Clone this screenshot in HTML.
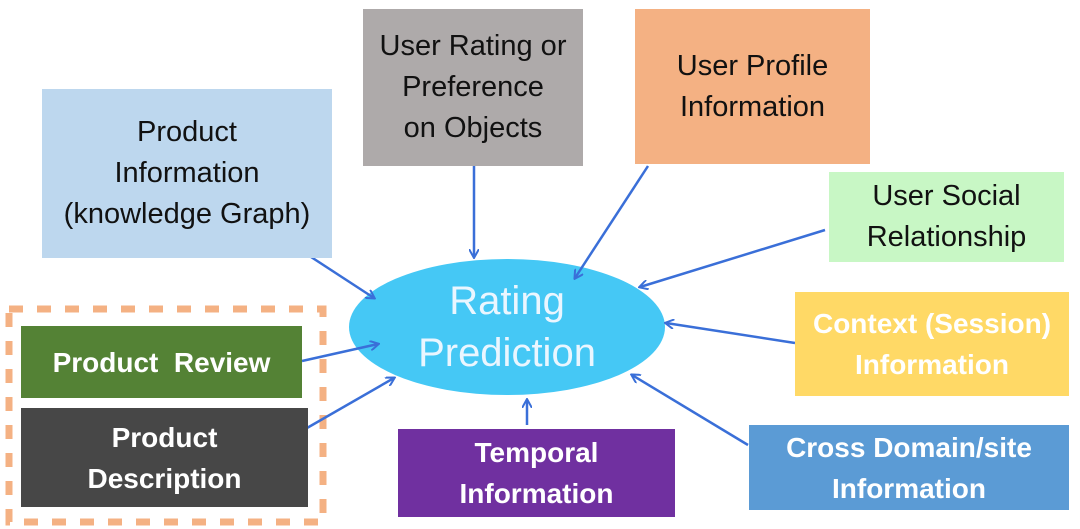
<!DOCTYPE html>
<html><head><meta charset="utf-8"><style>
body{margin:0;width:1080px;height:529px;background:#fff;position:relative;overflow:hidden;font-family:"Liberation Sans","DejaVu Sans",sans-serif}
.b{position:absolute;display:flex;align-items:center;justify-content:center;text-align:center;font-size:29px;line-height:41px;color:#111;white-space:nowrap}
.w{color:#fff;font-weight:bold;font-size:28px}
</style></head><body>
<svg width="1080" height="529" style="position:absolute;left:0;top:0">
<defs><marker id="a" markerWidth="10" markerHeight="10" refX="8" refY="5" orient="auto" markerUnits="userSpaceOnUse"><path d="M0,0 L9,5 L0,10" fill="none" stroke="#3a6fd8" stroke-width="2"/></marker></defs>
<rect x="9" y="309" width="314" height="213" fill="none" stroke="#f4b183" stroke-width="7" stroke-dasharray="14,14"/>
<ellipse cx="507" cy="327" rx="158" ry="68" fill="#45c8f5"/>
<g stroke="#3a6fd8" stroke-width="2.5" marker-end="url(#a)">
<line x1="308" y1="255" x2="374" y2="298"/>
<line x1="474" y1="166" x2="474" y2="257"/>
<line x1="648" y1="166" x2="575" y2="278"/>
<line x1="825" y1="230" x2="640" y2="287"/>
<line x1="795" y1="343" x2="666" y2="323"/>
<line x1="748" y1="445" x2="632" y2="375"/>
<line x1="527" y1="425" x2="527" y2="400"/>
<line x1="302" y1="361" x2="378" y2="344"/>
<line x1="307" y1="428" x2="394" y2="378"/>
</g>
</svg>
<div class="b" style="left:42px;top:89px;width:290px;height:169px;background:#bdd7ee">Product<br>Information<br>(knowledge Graph)</div>
<div class="b" style="left:363px;top:9px;width:220px;height:157px;background:#aeaaaa">User Rating or<br>Preference<br>on Objects</div>
<div class="b" style="left:635px;top:9px;width:235px;height:155px;background:#f4b183">User Profile<br>Information</div>
<div class="b" style="left:829px;top:172px;width:235px;height:90px;background:#c8f7c5">User Social<br>Relationship</div>
<div class="b w" style="left:795px;top:292px;width:274px;height:104px;background:#ffd966">Context (Session)<br>Information</div>
<div class="b w" style="left:749px;top:425px;width:320px;height:85px;background:#5b9bd5">Cross Domain/site<br>Information</div>
<div class="b w" style="left:398px;top:429px;width:277px;height:88px;background:#7030a0">Temporal<br>Information</div>
<div class="b w" style="left:21px;top:326px;width:281px;height:72px;background:#548235">Product&nbsp; Review</div>
<div class="b w" style="left:21px;top:408px;width:287px;height:99px;background:#474747">Product<br>Description</div>
<div class="b" style="left:349px;top:262px;width:316px;height:130px;color:#eaf6ff;font-size:40px;line-height:52px">Rating<br>Prediction</div>
</body></html>
